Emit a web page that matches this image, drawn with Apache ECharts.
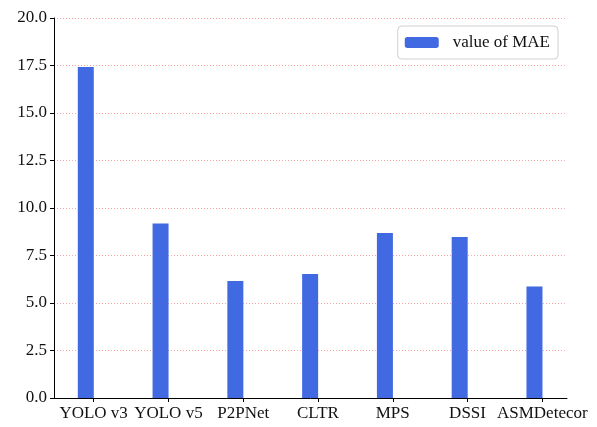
<!DOCTYPE html>
<html>
<head>
<meta charset="utf-8">
<script src="https://cdn.jsdelivr.net/npm/echarts@6/dist/echarts.min.js"></script>
<style>
  html, body { margin: 0; padding: 0; background: #fff; }
  #chart { width: 597px; height: 427px; }
</style>
</head>
<body>
<div id="chart"></div>
<script>
// Mean absolute error per detection model
const models = ['YOLO v3', 'YOLO v5', 'P2PNet', 'CLTR', 'MPS', 'DSSI', 'ASMDetecor'];
const maeValues = [17.42, 9.19, 6.16, 6.53, 8.68, 8.47, 5.87];
const yTicks = [0, 2.5, 5, 7.5, 10, 12.5, 15, 17.5, 20];

const FONT = '"Liberation Serif", "DejaVu Serif", serif';
const positions = models.map((_, i) => i);
// each bar sits just left of its category tick
const BAR_SHIFT = 0.105;
const barData = maeValues.map((v, i) => [i - BAR_SHIFT, v]);

const chart = echarts.init(document.getElementById('chart'), null, { renderer: 'canvas' });
chart.setOption({
  animation: false,
  backgroundColor: '#fff',
  grid: { left: 54, right: 30, top: 18, bottom: 29, containLabel: false },
  legend: {
    data: ['value of MAE'],
    right: 39,
    top: 26,
    padding: [8, 8, 8, 7],
    itemWidth: 34,
    itemHeight: 11,
    borderColor: '#d0d0d0',
    borderWidth: 1,
    borderRadius: 4,
    backgroundColor: 'rgba(255,255,255,0.85)',
    textStyle: { fontFamily: FONT, fontSize: 17, color: '#111', padding: [0, 0, 0, 9] }
  },
  xAxis: {
    type: 'value',
    min: -0.53,
    max: 6.33,
    splitLine: { show: false },
    axisLine: { show: true, onZero: false, lineStyle: { color: '#000', width: 1 } },
    axisTick: { show: true, length: 4, lineStyle: { color: '#000' }, customValues: positions },
    axisLabel: {
      customValues: positions,
      margin: 7,
      fontFamily: FONT,
      fontSize: 17,
      color: '#111',
      formatter: v => models[Math.round(v)] || ''
    }
  },
  yAxis: {
    type: 'value',
    min: 0,
    max: 20,
    interval: 2.5,
    axisLine: { show: true, onZero: false, lineStyle: { color: '#000', width: 1 } },
    axisTick: { show: true, length: 4, lineStyle: { color: '#000' } },
    axisLabel: {
      margin: 7,
      fontFamily: FONT,
      fontSize: 17,
      color: '#111',
      formatter: v => v.toFixed(1)
    },
    splitLine: { show: true, lineStyle: { color: 'rgba(255,90,90,0.55)', type: [1, 2], width: 1 } }
  },
  series: [{
    name: 'value of MAE',
    type: 'bar',
    data: barData,
    barWidth: 16,
    itemStyle: { color: '#4169E1' }
  }]
});
</script>
</body>
</html>
